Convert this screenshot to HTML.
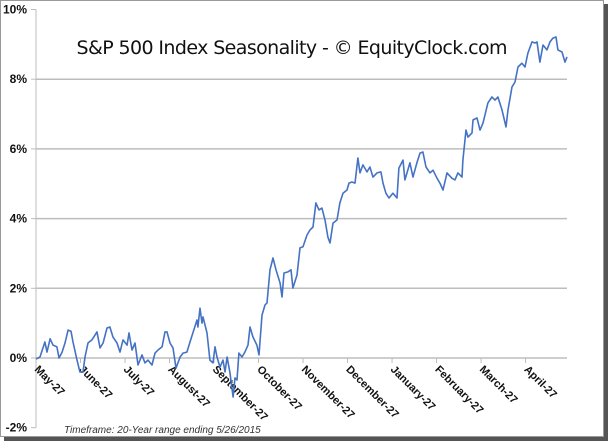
<!DOCTYPE html>
<html><head><meta charset="utf-8"><style>
html,body{margin:0;padding:0;background:#fff;}
svg{display:block;font-family:"Liberation Sans",sans-serif;}
</style></head><body>
<svg id="chart" width="609" height="444" viewBox="0 0 609 444" xmlns="http://www.w3.org/2000/svg">
<rect x="4" y="4" width="604" height="437" fill="#555"/>
<rect x="0.5" y="0.5" width="603" height="436" fill="#fff" stroke="#999"/>
<g id="grid"></g>
<g id="axes"></g>
<text x="292" y="54" text-anchor="middle" font-family="DejaVu Sans, sans-serif" font-size="19" textLength="431" fill="#111">S&amp;P 500 Index Seasonality - © EquityClock.com</text>
<g id="series"></g>
<text x="64" y="433" font-size="10" font-style="italic" fill="#333">Timeframe: 20-Year range ending 5/26/2015</text>
</svg>
<script>
const yTicks=[-2,0,2,4,6,8,10];
const yTickLabels=["-2%","0%","2%","4%","6%","8%","10%"];
const monthLabels=["May-27","June-27","July-27","August-27","September-27","October-27","November-27","December-27","January-27","February-27","March-27","April-27"];
const monthDays=[0,30.4,60.8,91.2,121.6,152,182.4,212.8,243.2,273.6,304,334.4];
const days=[0,2.7,6.1,7.5,9.6,11.6,14.3,15.7,17.8,19.8,21.9,23.9,25.3,28,30,32.1,33.5,35.5,38.2,41.7,43.7,45.8,48.5,50.5,52.6,55.3,57.4,59.4,62.2,63.5,65.6,67.6,69.7,72.4,74.4,76.5,79.2,81.3,83.3,86.1,88.1,89.5,91.5,93.6,95.6,98.4,100.4,103.1,105.2,107.2,110,110.6,112,113.4,114.1,116.8,118.8,120.9,122.3,123.6,125.7,127.7,129.1,130.5,132.5,134.6,135.9,137.3,138.6,140.7,142.7,144.8,146.2,148.2,150.9,152.3,154.4,156.4,157.8,159.8,161.9,163.9,166.7,168,169.4,172.1,174.2,175.5,178.3,180.3,182.4,185.1,187.1,189.2,191.2,193.3,195.3,197.4,199.4,200.8,202.9,205.6,207.6,209.7,212.4,213.8,215.8,217.9,219.9,221.3,223.3,226.1,228.1,230.2,232.9,235.6,237,239,241.1,243.8,246.6,247.9,250.7,252,253.4,255.4,257.5,260.2,262.3,264.3,266.4,269.1,271.2,273.9,275.9,278,280.7,284.1,286.2,288.2,291,291.6,293.7,295.1,297.8,298.5,301.2,303.3,305.3,308.7,311.4,313.5,315.5,318.3,321,322.4,325.1,327.2,329.2,331.9,334,336,338.8,340.8,342.2,344.2,346.3,349,351.1,353.1,355.2,356.5,359.3,361.3,362.7];
const values=[-0.03,0.03,0.46,0.17,0.55,0.37,0.32,0,0.17,0.43,0.80,0.77,0.46,-0.06,-0.40,-0.40,0.03,0.43,0.52,0.75,0.29,0.43,0.86,0.89,0.60,0.43,0.17,0.52,0.37,0.72,0.23,0.43,-0.20,0.09,-0.14,-0.06,-0.20,0.14,0.23,0.32,0.75,0.75,0.43,0.29,-0.29,0.03,0.14,0.17,0.46,0.72,1.09,0.89,1.43,1.00,1.18,0.72,-0.06,-0.14,0.32,0.03,-0.26,-0.06,-0.40,0.03,-0.43,-1.12,-0.57,-0.63,0.14,0.03,0.17,0.37,0.89,0.60,0.37,0.09,1.23,1.52,1.58,2.53,2.87,2.53,2.15,1.75,2.44,2.47,2.53,2.01,2.38,3.16,3.19,3.53,3.67,3.76,4.45,4.25,4.30,3.96,3.47,3.30,3.87,3.96,4.45,4.73,4.82,5.02,5.05,5.02,5.74,5.31,5.54,5.34,5.48,5.19,5.31,5.34,5.02,4.73,4.59,4.73,4.59,5.45,5.68,5.11,5.31,5.60,5.19,5.60,5.88,5.91,5.48,5.31,5.39,5.16,5.02,4.82,5.31,5.16,5.11,5.31,5.19,5.68,6.54,6.34,6.46,6.83,6.89,6.54,6.74,7.32,7.49,7.40,7.49,7.12,6.63,7.12,7.78,7.92,8.35,8.46,8.35,8.75,9.07,9.04,9.07,8.49,8.98,8.84,9.07,9.18,9.21,8.84,8.78,8.49,8.64];
const X0=36,X1=567,Y0=358,PER=34.85,DAYMAX=362.7;
function xS(d){return X0+d*(X1-X0)/DAYMAX;}
function yS(v){return Y0-v*PER;}
const NS="http://www.w3.org/2000/svg";
function mk(t,a,p){const e=document.createElementNS(NS,t);for(const k in a)e.setAttribute(k,a[k]);p.appendChild(e);return e;}
const grid=document.getElementById('grid'),axes=document.getElementById('axes'),ser=document.getElementById('series');
yTicks.forEach((v,i)=>{
  const y=yS(v);
  if(v>-2&&v<10){const g=mk('line',{x1:X0,x2:X1,y1:y,y2:y,stroke:'#bdbdbd','stroke-width':1.5},grid);
  
  }
  const t=mk('line',{x1:X0-5,x2:X0,y1:y,y2:y,stroke:'#bdbdbd'},axes);
  
  
  const l=mk('text',{x:27,y:y+4,'text-anchor':'end','font-size':12,'font-weight':'bold',fill:'#111'},axes);
  l.textContent=yTickLabels[i];
  
  
});
const ya=mk('line',{x1:X0,x2:X0,y1:yS(10),y2:yS(-2),stroke:'#bdbdbd'},axes);


monthDays.forEach((d,i)=>{
  const x=xS(d);
  const t=mk('line',{x1:x,x2:x,y1:Y0,y2:Y0+5,stroke:'#bdbdbd'},axes);
  
  
  const l=mk('text',{x:x-2,y:Y0+12,'font-size':11,'font-weight':'bold',fill:'#111',transform:'rotate(45 '+(x-2)+' '+(Y0+12)+')'},axes);
  l.textContent=monthLabels[i];
  
  
});
const pts=days.map((d,i)=>xS(d).toFixed(1)+','+yS(values[i]).toFixed(1)).join(' ');
const pl=mk('polyline',{points:pts,fill:'none',stroke:'#4472c4','stroke-width':1.6,'stroke-linejoin':'round'},ser);


</script>
</body></html>
